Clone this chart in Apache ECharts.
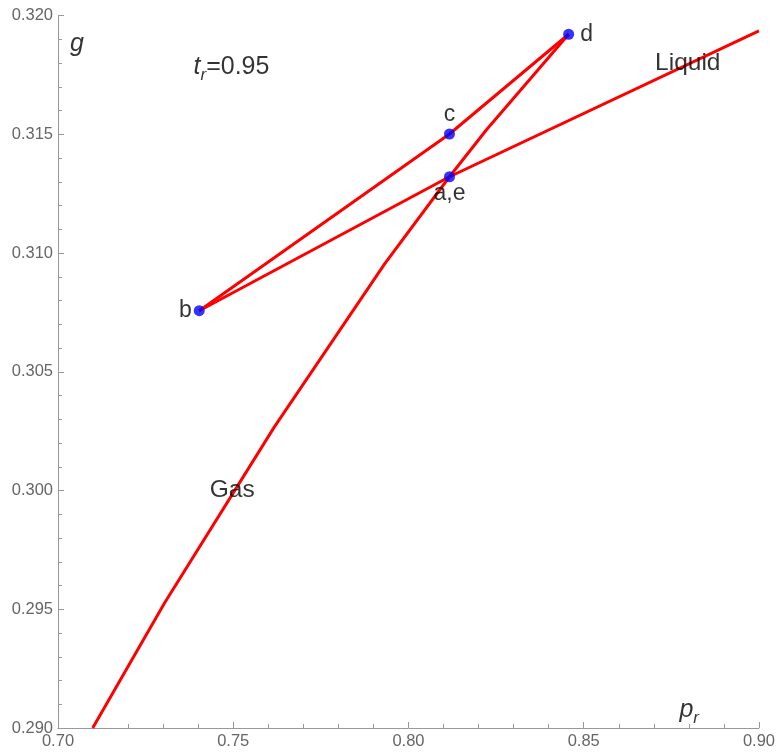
<!DOCTYPE html>
<html>
<head>
<meta charset="utf-8">
<script src="https://cdn.jsdelivr.net/npm/echarts@6/dist/echarts.min.js"></script>
<style>
html,body{margin:0;padding:0;background:#fff;}
#chart{width:778px;height:755px;}
</style>
</head>
<body>
<div id="chart"></div>
<script>
// ---- data ----
const xTicks = [0.70, 0.75, 0.80, 0.85, 0.90];
const yTicks = [0.290, 0.295, 0.300, 0.305, 0.310, 0.315, 0.320];

// Liquid branch (from high p down to spinodal b)
const liquidP = [0.9000, 0.8117, 0.7403];
const liquidG = [0.31935, 0.31321, 0.30757];

// Unstable branch (b -> c -> d)
const unstableP = [0.7403, 0.8117, 0.8457];
const unstableG = [0.30757, 0.31501, 0.31921];

// Gas branch (d -> a,e -> low p)
const gasP = [0.8457, 0.8222, 0.8117, 0.7932, 0.7617, 0.7304, 0.7099];
const gasG = [0.31921, 0.31518, 0.31321, 0.30954, 0.30267, 0.29526, 0.2900];

// Marked states
const stateNames = ['a,e', 'b', 'c', 'd'];
const stateP = [0.8117, 0.7403, 0.8117, 0.8457];
const stateG = [0.31321, 0.30757, 0.31501, 0.31921];

// ---- build ----
const zip = (xs, ys) => xs.map((x, i) => [x, ys[i]]);
const labelPos = {'a,e': ['bottom', 0], 'b': ['left', 2], 'c': ['top', 2], 'd': ['right', 6]};
const FONT = '"Liberation Sans", Arial, sans-serif';
const lineStyle = {color: '#ff0000', width: 3};

const chart = echarts.init(document.getElementById('chart'));
chart.setOption({
  animation: false,
  backgroundColor: '#ffffff',
  grid: {left: 58, right: 16, top: 15.5, bottom: 27, containLabel: false},
  xAxis: {
    type: 'value', min: 0.70, max: 0.90, interval: 0.05,
    axisLine: {show: true, onZero: false, lineStyle: {color: '#999999', width: 1}},
    axisTick: {show: true, inside: true, length: 6, lineStyle: {color: '#999999'}},
    minorTick: {show: true, splitNumber: 5, length: 4, lineStyle: {color: '#999999'}},
    splitLine: {show: false},
    axisLabel: {color: '#666666', fontSize: 16.5, fontFamily: FONT, margin: 5,
      formatter: v => v.toFixed(2)}
  },
  yAxis: {
    type: 'value', min: 0.290, max: 0.320, interval: 0.005,
    axisLine: {show: true, onZero: false, lineStyle: {color: '#999999', width: 1}},
    axisTick: {show: true, inside: true, length: 6, lineStyle: {color: '#999999'}},
    minorTick: {show: true, splitNumber: 5, length: 4, lineStyle: {color: '#999999'}},
    splitLine: {show: false},
    axisLabel: {color: '#666666', fontSize: 16.5, fontFamily: FONT, margin: 5,
      formatter: v => v.toFixed(3)}
  },
  series: [
    {type: 'line', data: zip(liquidP, liquidG), showSymbol: false, lineStyle, smooth: false, z: 2},
    {type: 'line', data: zip(unstableP, unstableG), showSymbol: false, lineStyle, smooth: false, z: 2},
    {type: 'line', data: zip(gasP, gasG), showSymbol: false, lineStyle, smooth: false, z: 2},
    {
      type: 'scatter', z: 5,
      symbolSize: 11,
      itemStyle: {color: '#0000ff'},
      data: stateNames.map((n, i) => ({
        name: n, value: [stateP[i], stateG[i]],
        label: {show: true, position: labelPos[n][0], distance: labelPos[n][1],
          formatter: n, color: '#000', fontSize: 23, fontFamily: FONT}
      }))
    },
    {
      type: 'scatter', z: 6, symbolSize: 0, silent: true,
      label: {show: true, position: 'inside', color: '#000', fontSize: 24.5, fontFamily: FONT},
      data: [
        {value: [0.7054, 0.3188], label: {formatter: 'g', fontStyle: 'italic', fontSize: 25}},
        {value: [0.7495, 0.31795], label: {
          formatter: '{i|t}{s|r}{n|=0.95}',
          rich: {
            i: {fontStyle: 'italic', fontSize: 25, fontFamily: FONT, color: '#000', lineHeight: 30, verticalAlign: 'bottom'},
            s: {fontStyle: 'italic', fontSize: 17, fontFamily: FONT, color: '#000', lineHeight: 30, verticalAlign: 'bottom', padding: [0, 0, -5, 0]},
            n: {fontSize: 25, fontFamily: FONT, color: '#000', lineHeight: 30, verticalAlign: 'bottom'}
          }}},
        {value: [0.8797, 0.3180], label: {formatter: 'Liquid'}},
        {value: [0.7497, 0.3000], label: {formatter: 'Gas'}},
        {value: [0.8801, 0.29088], label: {
          formatter: '{p|p}{s|r}',
          rich: {
            p: {fontStyle: 'italic', fontSize: 25, fontFamily: FONT, color: '#000', lineHeight: 30, verticalAlign: 'bottom'},
            s: {fontStyle: 'italic', fontSize: 17, fontFamily: FONT, color: '#000', lineHeight: 30, verticalAlign: 'bottom', padding: [0, 0, -5, 0]}
          }}}
      ]
    }
  ]
});
</script>
</body>
</html>
